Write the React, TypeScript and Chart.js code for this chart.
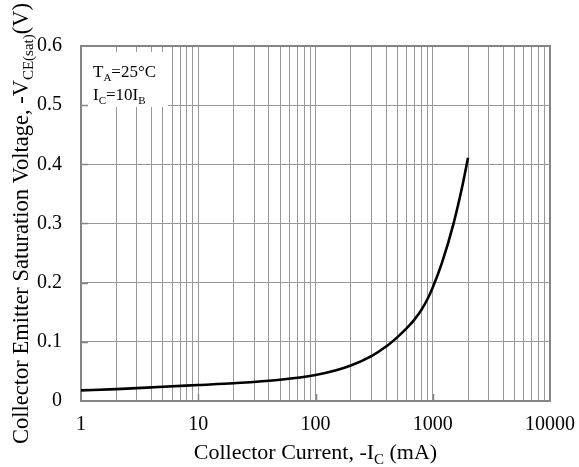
import React, { useEffect, useRef } from 'react';
import { Chart, registerables } from 'chart.js';

Chart.register(...registerables);

// Collector current (mA) and collector-emitter saturation voltage (V)
const currentMA = [1, 2, 5, 10, 20, 50, 100, 150, 200, 300, 400, 500, 600, 700, 800, 900, 1000, 1200, 1500, 1800, 2000];
const vceSat = [0.018, 0.020, 0.024, 0.027, 0.030, 0.036, 0.044, 0.052, 0.060, 0.076, 0.092, 0.108, 0.123, 0.138, 0.154, 0.172, 0.192, 0.234, 0.299, 0.366, 0.411];

const xMajorTicks = [1, 10, 100, 1000, 10000];
const xMinorMultipliers = [1, 2, 3, 4, 5, 6, 7, 8, 9];
const yMin = 0;
const yMax = 0.6;
const yStep = 0.1;

const FONT = "'Liberation Serif', 'Times New Roman', serif";
const GRID = '#989898';
const FRAME = '#858585';

type Part = { t: string; sub?: boolean };

function drawRich(ctx: CanvasRenderingContext2D, parts: Part[], x: number, y: number, size: number, align: 'left' | 'center') {
  const subSize = Math.round(size * 0.66);
  let total = 0;
  for (const p of parts) {
    ctx.font = `${p.sub ? subSize : size}px ${FONT}`;
    total += ctx.measureText(p.t).width;
  }
  let cx = align === 'center' ? x - total / 2 : x;
  ctx.textAlign = 'left';
  ctx.textBaseline = 'alphabetic';
  for (const p of parts) {
    ctx.font = `${p.sub ? subSize : size}px ${FONT}`;
    ctx.fillText(p.t, cx, p.sub ? y + size * 0.22 : y);
    cx += ctx.measureText(p.t).width;
  }
}

const customPlugin = {
  id: 'customDecor',
  beforeDatasetsDraw(chart: any) {
    const { ctx, chartArea: a, scales } = chart;
    ctx.save();
    // white background behind the annotation
    ctx.fillStyle = '#ffffff';
    ctx.fillRect(a.left + 1, a.top + 6, 86, 55);
    // inner tick marks
    ctx.strokeStyle = FRAME;
    ctx.lineWidth = 1.5;
    ctx.beginPath();
    for (let v = yMin + yStep; v < yMax - 1e-9; v += yStep) {
      const py = Math.round(scales.y.getPixelForValue(v)) + 0.5;
      ctx.moveTo(a.left, py);
      ctx.lineTo(a.left + 7, py);
    }
    for (const v of xMajorTicks.slice(1, -1)) {
      const px = Math.round(scales.x.getPixelForValue(v)) + 0.5;
      ctx.moveTo(px, a.bottom);
      ctx.lineTo(px, a.bottom - 7);
    }
    ctx.stroke();
    // frame
    ctx.lineWidth = 2;
    ctx.strokeRect(a.left, a.top, a.right - a.left, a.bottom - a.top);
    ctx.restore();
  },
  afterDraw(chart: any) {
    const { ctx, chartArea: a } = chart;
    ctx.save();
    ctx.fillStyle = '#000000';
    // annotation
    drawRich(ctx, [{ t: 'T' }, { t: 'A', sub: true }, { t: '=25°C' }], a.left + 12, a.top + 31, 17, 'left');
    drawRich(ctx, [{ t: 'I' }, { t: 'C', sub: true }, { t: '=10I' }, { t: 'B', sub: true }], a.left + 12, a.top + 54, 17, 'left');
    // x title
    drawRich(ctx, [{ t: 'Collector Current, -I' }, { t: 'C', sub: true }, { t: ' (mA)' }], (a.left + a.right) / 2, 459, 22, 'center');
    // y title
    ctx.translate(28, (a.top + a.bottom) / 2);
    ctx.rotate(-Math.PI / 2);
    drawRich(ctx, [{ t: 'Collector Emitter Saturation Voltage, -V' }, { t: 'CE(sat)', sub: true }, { t: '(V)' }], 0, 0, 22.5, 'center');
    ctx.restore();
  },
};

export default function App() {
  const ref = useRef<HTMLCanvasElement | null>(null);

  useEffect(() => {
    document.body.style.margin = '0';
    const canvas = ref.current;
    if (!canvas) return;
    const xTicks: number[] = [];
    for (let d = 0; d < xMajorTicks.length - 1; d++) {
      for (const m of xMinorMultipliers) xTicks.push(m * xMajorTicks[d]);
    }
    xTicks.push(xMajorTicks[xMajorTicks.length - 1]);

    const chart = new Chart(canvas, {
      type: 'line',
      data: {
        datasets: [
          {
            data: currentMA.map((x, i) => ({ x, y: vceSat[i] })),
            borderColor: '#000000',
            borderWidth: 2.6,
            pointRadius: 0,
            cubicInterpolationMode: 'monotone',
            fill: false,
          },
        ],
      },
      options: {
        responsive: false,
        animation: false,
        layout: { padding: { top: 46, right: 29, left: 0, bottom: 0 } },
        plugins: { legend: { display: false }, tooltip: { enabled: false } },
        scales: {
          x: {
            type: 'logarithmic',
            min: 1,
            max: 10000,
            afterBuildTicks: (scale: any) => {
              scale.ticks = xTicks.map((v) => ({ value: v, major: xMajorTicks.includes(v) }));
            },
            afterFit: (scale: any) => {
              scale.height = 66;
              scale.paddingLeft = 0;
              scale.paddingRight = 0;
            },
            grid: { color: GRID, lineWidth: 1, drawTicks: false },
            border: { display: false },
            ticks: {
              autoSkip: false,
              maxRotation: 0,
              padding: 12,
              color: '#000000',
              font: { family: FONT, size: 20 },
              callback: (v: any) => (xMajorTicks.includes(Number(v)) ? String(v) : ''),
            },
          },
          y: {
            min: yMin,
            max: yMax,
            afterFit: (scale: any) => {
              scale.width = 81;
            },
            grid: { color: GRID, lineWidth: 1, drawTicks: false },
            border: { display: false },
            ticks: {
              stepSize: yStep,
              padding: 19,
              color: '#000000',
              font: { family: FONT, size: 20 },
              callback: (v: any) => (Number(v) === 0 ? '0' : Number(v).toFixed(1)),
            },
          },
        },
      },
      plugins: [customPlugin],
    });
    return () => chart.destroy();
  }, []);

  return (
    <div style={{ width: 579, height: 467 }}>
      <canvas ref={ref} width={579} height={467} style={{ display: 'block' }} />
    </div>
  );
}
